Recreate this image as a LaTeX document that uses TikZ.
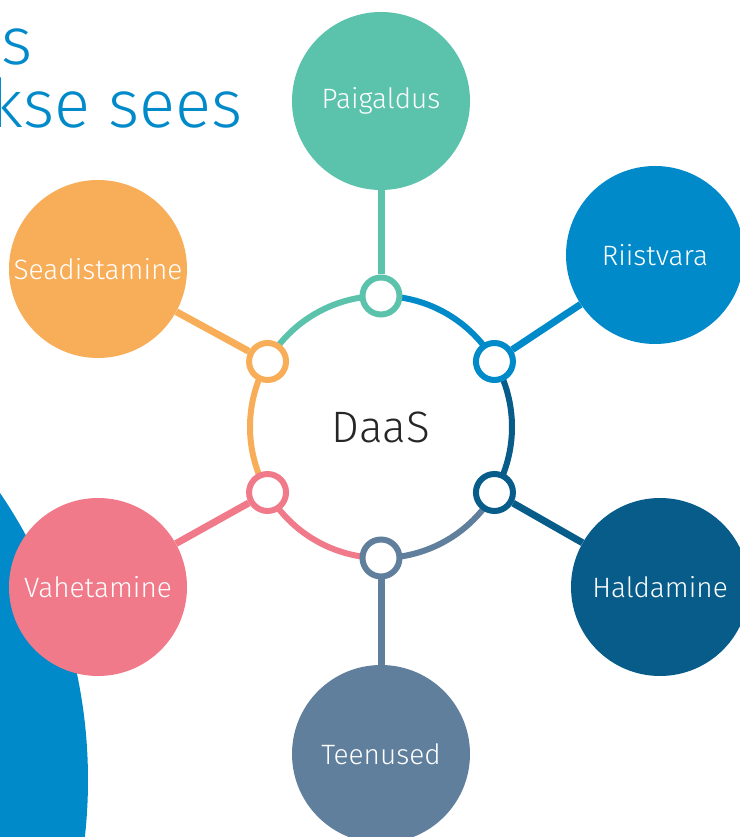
\documentclass[tikz,border=0pt]{standalone}
\usepackage{fontspec}
\setmainfont{Fira Sans Light}

\definecolor{cTeal}{RGB}{91,194,172}
\definecolor{cBlue}{RGB}{0,138,201}
\definecolor{cNavy}{RGB}{7,92,138}
\definecolor{cSlate}{RGB}{96,127,156}
\definecolor{cPink}{RGB}{240,122,138}
\definecolor{cOrange}{RGB}{248,173,88}

\begin{document}
\begin{tikzpicture}[x=1pt, y=1pt]
	\tikzstyle{crit}=[
	circle, inner sep=0pt,
	minimum size=178pt,
	text=white, font=\fontsize{28}{32}\selectfont
	]
	\tikzstyle{dot}=[circle, draw, fill=white, line width=6pt, minimum size=37pt, inner sep=0pt]
	\tikzstyle{ring}=[line width=6pt]
	\tikzstyle{spoke}=[line width=7pt]
	\tikzstyle{heading}=[text=cBlue, font=\fontsize{67}{72}\selectfont, inner sep=0pt, anchor=base east]
	
	\useasboundingbox (0,0) rectangle (739,837);
	\fill[cBlue] (-424,57) circle[radius=512];
	
	\node[heading] (h1) at (33,772) {s};
	\node[heading] (h2) at (243,709) {kse sees};
	
	\node[font=\fontsize{44}{50}\selectfont, text=black!85] (hub) at (381,410) {DaaS};
	
	\draw[ring, cTeal] (hub.center) ++(90:131) arc[start angle=90, end angle=150, radius=131];
	\draw[ring, cBlue] (hub.center) ++(30:131) arc[start angle=30, end angle=90, radius=131];
	\draw[ring, cNavy] (hub.center) ++(-30:131) arc[start angle=-30, end angle=30, radius=131];
	\draw[ring, cSlate] (hub.center) ++(-90:131) arc[start angle=-90, end angle=-30, radius=131];
	\draw[ring, cPink] (hub.center) ++(-150:131) arc[start angle=-150, end angle=-90, radius=131];
	\draw[ring, cOrange] (hub.center) ++(150:131) arc[start angle=150, end angle=210, radius=131];
	
	\path (hub.center) ++(90:131) node[dot, draw=cTeal] (dpai) {};
	\path (hub.center) ++(30:131) node[dot, draw=cBlue] (driis) {};
	\path (hub.center) ++(-30:131) node[dot, draw=cNavy] (dhald) {};
	\path (hub.center) ++(-90:131) node[dot, draw=cSlate] (dteen) {};
	\path (hub.center) ++(-150:131) node[dot, draw=cPink] (dvahe) {};
	\path (hub.center) ++(150:131) node[dot, draw=cOrange] (dsead) {};
	
	\node[crit, fill=cTeal] (pai) at (381,736) {Paigaldus};
	\node[crit, fill=cBlue] (riis) at (655,582) {Riistvara};
	\node[crit, fill=cNavy] (hald) at (660,250) {Haldamine};
	\node[crit, fill=cSlate] (teen) at (381,83) {Teenused};
	\node[crit, fill=cPink] (vahe) at (98,250) {Vahetamine};
	\node[crit, fill=cOrange] (sead) at (98,568) {Seadistamine};
	
	\draw[spoke, cTeal] (dpai) -- (pai);
	\draw[spoke, cBlue] (driis) -- (riis);
	\draw[spoke, cNavy] (dhald) -- (hald);
	\draw[spoke, cSlate] (dteen) -- (teen);
	\draw[spoke, cPink] (dvahe) -- (vahe);
	\draw[spoke, cOrange] (dsead) -- (sead);
\end{tikzpicture}
\end{document}
